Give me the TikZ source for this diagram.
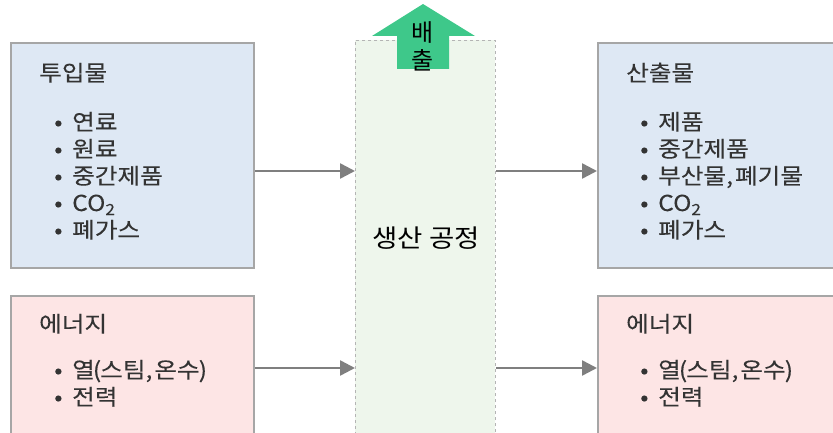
\documentclass[tikz,border=0pt]{standalone}
\usepackage{fontspec}
\setmainfont{Noto Sans CJK KR}
\newfontfamily\widefont[FakeStretch=1.12,FakeBold=0.15]{Noto Sans CJK KR}
\newfontfamily\plainwide[FakeStretch=1.1]{Noto Sans CJK KR}
\usetikzlibrary{arrows.meta}
\definecolor{boxline}{HTML}{A6A6A6}
\definecolor{bluefill}{HTML}{DEE8F4}
\definecolor{pinkfill}{HTML}{FDE5E5}
\definecolor{greenfill}{HTML}{EEF6EC}
\definecolor{procline}{HTML}{B4B4B4}
\definecolor{arrgray}{HTML}{7F7F7F}
\definecolor{emitgreen}{HTML}{3EC88A}
\definecolor{txt}{HTML}{333333}
\tikzset{
 panel/.style={draw=boxline, line width=2.2pt, anchor=north west, inner sep=0pt},
 bluepanel/.style={panel, fill=bluefill},
 pinkpanel/.style={panel, fill=pinkfill},
 heading/.style={anchor=base west, inner sep=0pt, text=txt, font=\widefont\fontsize{22}{28}\selectfont},
 item/.style={anchor=base west, inner sep=0pt, text=txt, font=\widefont\fontsize{22}{27}\selectfont},
 flow/.style={draw=arrgray, line width=2.5pt, -{Triangle[length=15pt,width=15pt]}},
 bigtext/.style={inner sep=0pt, text=black, font=\plainwide\fontsize{25}{30}\selectfont},
}
\newcommand\bul{\makebox[19pt][l]{\hspace{1pt}•}}
\begin{document}
\begin{tikzpicture}[x=1pt,y=-1pt]
\clip (0,0) rectangle (833,433);
% process column
\node[draw=procline, dashed, line width=0.8pt, fill=greenfill, anchor=north west,
      minimum width=140pt, minimum height=420pt, inner sep=0pt] (proc) at (355,40) {};
\node[bigtext] (proctext) at (426,238) {생산 공정};
% emission arrow
\fill[emitgreen] (423,4) -- (475,36) -- (449,36) -- (449,69) -- (397,69) -- (397,36) -- (372,36) -- cycle;
\node[bigtext, align=center, font=\fontsize{24}{28}\selectfont] (emit) at (423,46) {배\\출};
% panels
\node[bluepanel, minimum width=243pt, minimum height=225pt] (inp) at (10,42) {};
\node[pinkpanel, minimum width=243pt, minimum height=160pt] (enl) at (10,295) {};
\node[bluepanel, minimum width=260pt, minimum height=225pt] (out) at (597,42) {};
\node[pinkpanel, minimum width=260pt, minimum height=160pt] (enr) at (597,295) {};
% headings
\node[heading] (inph) at (39,81) {투입물};
\node[heading] (outh) at (626,81) {산출물};
\node[heading] (enlh) at (39,332) {에너지};
\node[heading] (enrh) at (626,332) {에너지};
% items
\foreach \t [count=\i] in {연료,원료,중간제품,CO\textsubscript{2},폐가스}
  \node[item] (inpi\i) at ({53},{130+27*(\i-1)}) {\bul\t};
\foreach \t [count=\i] in {제품,중간제품,{부산물,\kern2pt폐기물},CO\textsubscript{2},폐가스}
  \node[item] (outi\i) at ({639},{130+27*(\i-1)}) {\bul\t};
\foreach \t [count=\i] in {{열\kern-2pt(\kern-1pt스팀,\hspace{2pt}온수\kern-1pt)},전력}
  \node[item] (enli\i) at ({53},{378+27*(\i-1)}) {\bul\t};
\foreach \t [count=\i] in {{열\kern-2pt(\kern-1pt스팀,\hspace{2pt}온수\kern-1pt)},전력}
  \node[item] (enri\i) at ({639},{378+27*(\i-1)}) {\bul\t};
% connectors
\coordinate (rowA) at (0,171);
\coordinate (rowB) at (0,368);
\draw[flow] (inp.east |- rowA) -- (proc.west |- rowA);
\draw[flow] (proc.east |- rowA) -- (out.west |- rowA);
\draw[flow] (enl.east |- rowB) -- (proc.west |- rowB);
\draw[flow] (proc.east |- rowB) -- (enr.west |- rowB);
\end{tikzpicture}
\end{document}
